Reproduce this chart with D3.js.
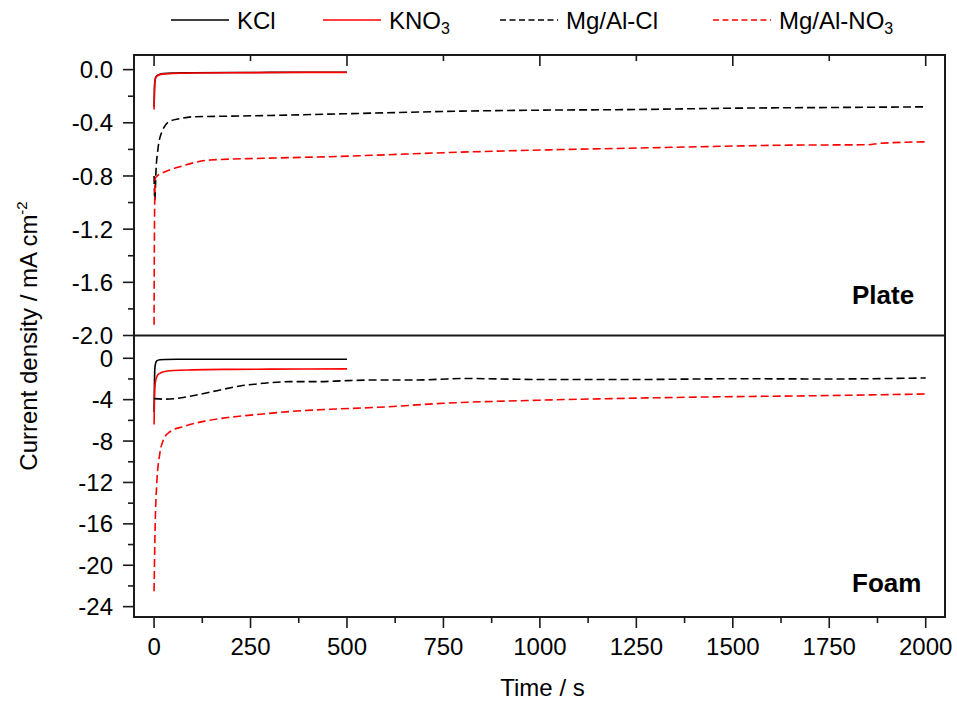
<!DOCTYPE html>
<html>
<head>
<meta charset="utf-8">
<script src="https://cdn.jsdelivr.net/npm/d3@7"></script>
<style>
  body { margin: 0; background: #fff; }
  text { font-family: "Liberation Sans", Arial, sans-serif; fill: #000; }
  .frame { fill: none; stroke: #1a1a1a; stroke-width: 2; }
  .tick-line { stroke: #1a1a1a; stroke-width: 1.6; }
  .series { fill: none; stroke-width: 1.6; }
</style>
</head>
<body>
<div id="chart"></div>
<script>
// ---- data ----
var seriesNames = ["KCl", "KNO3", "Mg/Al-Cl", "Mg/Al-NO3"];
var xTicks = [0, 250, 500, 750, 1000, 1250, 1500, 1750, 2000];
var plateTicks = [0.0, -0.4, -0.8, -1.2, -1.6, -2.0];
var foamTicks = [0, -4, -8, -12, -16, -20, -24];

// Plate panel
var plateKClTime = [0, 1, 2, 4, 8, 15, 25, 50, 100, 200, 300, 400, 500];
var plateKClCurrent = [-0.28, -0.15, -0.09, -0.06, -0.045, -0.035, -0.03, -0.026, -0.024, -0.022, -0.021, -0.02, -0.02];
var plateKNO3Time = [0, 1, 2, 4, 8, 15, 25, 50, 100, 200, 300, 400, 500];
var plateKNO3Current = [-0.30, -0.16, -0.10, -0.065, -0.048, -0.038, -0.032, -0.028, -0.025, -0.023, -0.022, -0.021, -0.021];
var plateMgAlClTime = [0, 2, 5, 10, 20, 40, 65, 100, 200, 300, 450, 600, 800, 1000, 1250, 1500, 1750, 2000];
var plateMgAlClCurrent = [-0.80, -0.98, -0.76, -0.60, -0.47, -0.39, -0.37, -0.355, -0.35, -0.345, -0.335, -0.325, -0.312, -0.305, -0.30, -0.29, -0.285, -0.28];
var plateMgAlNO3Time = [0, 1, 3, 8, 20, 67, 145, 283, 456, 580, 750, 1000, 1250, 1415, 1650, 1850, 1880, 2000];
var plateMgAlNO3Current = [-1.92, -1.2, -0.82, -0.80, -0.78, -0.73, -0.68, -0.667, -0.655, -0.643, -0.625, -0.605, -0.59, -0.58, -0.568, -0.565, -0.555, -0.543];

// Foam panel
var foamKClTime = [0, 1, 2, 4, 7, 15, 30, 60, 100, 200, 300, 400, 500];
var foamKClCurrent = [-5.2, -2.5, -1.0, -0.5, -0.25, -0.15, -0.12, -0.1, -0.1, -0.1, -0.1, -0.1, -0.1];
var foamKNO3Time = [0, 1, 2, 4, 8, 15, 25, 50, 100, 200, 300, 400, 500];
var foamKNO3Current = [-6.4, -4.0, -2.8, -2.2, -1.7, -1.45, -1.3, -1.18, -1.12, -1.07, -1.05, -1.03, -1.02];
var foamMgAlClTime = [0, 30, 110, 171, 223, 283, 352, 421, 500, 577, 680, 760, 800, 900, 1000, 1250, 1500, 1750, 2000];
var foamMgAlClCurrent = [-3.9, -3.95, -3.55, -3.06, -2.68, -2.42, -2.26, -2.26, -2.16, -2.1, -2.1, -2.0, -1.95, -2.0, -2.05, -2.05, -1.98, -2.0, -1.9];
var foamMgAlNO3Time = [0, 2.6, 7, 15, 24, 41, 76, 128, 197, 283, 370, 456, 580, 750, 1000, 1250, 1415, 1750, 2000];
var foamMgAlNO3Current = [-22.5, -16.6, -12.1, -9.2, -7.9, -7.1, -6.6, -6.1, -5.7, -5.38, -5.1, -4.93, -4.74, -4.35, -4.05, -3.85, -3.75, -3.6, -3.45];

// ---- layout ----
var width = 957, height = 702;
var left = 134, right = 945;
var plateTop = 55, split = 335.5, foamBottom = 617;

var svg = d3.select("#chart")
            .append("svg")
              .attr("width", width)
              .attr("height", height);

// scales
var xScale = d3.scaleLinear().domain([-52, 2050]).range([left, right]);
var yPlate = d3.scaleLinear().domain([-2.0, 0.11]).range([split, plateTop]);
var yFoam = d3.scaleLinear().domain([-25, 2.2]).range([foamBottom, split]);

var colours = {
  "KCl": "#000",
  "KNO3": "#ff0000",
  "Mg/Al-Cl": "#000",
  "Mg/Al-NO3": "#ff0000"
};
var dashes = {
  "KCl": null,
  "KNO3": null,
  "Mg/Al-Cl": "8,4",
  "Mg/Al-NO3": "8,4"
};

function zipSeries(times, values) {
  return times.map(function(t, i) { return {t: t, v: values[i]}; });
}

var plateData = [
  {name: "KCl", values: zipSeries(plateKClTime, plateKClCurrent)},
  {name: "KNO3", values: zipSeries(plateKNO3Time, plateKNO3Current)},
  {name: "Mg/Al-Cl", values: zipSeries(plateMgAlClTime, plateMgAlClCurrent)},
  {name: "Mg/Al-NO3", values: zipSeries(plateMgAlNO3Time, plateMgAlNO3Current)}
];
var foamData = [
  {name: "KCl", values: zipSeries(foamKClTime, foamKClCurrent)},
  {name: "KNO3", values: zipSeries(foamKNO3Time, foamKNO3Current)},
  {name: "Mg/Al-Cl", values: zipSeries(foamMgAlClTime, foamMgAlClCurrent)},
  {name: "Mg/Al-NO3", values: zipSeries(foamMgAlNO3Time, foamMgAlNO3Current)}
];

// ---- series ----
function drawPanel(data, yScale, cls) {
  var line = d3.line()
               .curve(d3.curveMonotoneX)
               .x(function(d) { return xScale(d.t); })
               .y(function(d) { return yScale(d.v); });

  svg.append("g")
      .attr("class", cls)
     .selectAll("path")
      .data(data)
      .enter()
     .append("path")
      .attr("class", "series")
      .attr("stroke", function(d) { return colours[d.name]; })
      .attr("stroke-dasharray", function(d) { return dashes[d.name]; })
      .attr("d", function(d) { return line(d.values); });
}

drawPanel(plateData, yPlate, "plate");
drawPanel(foamData, yFoam, "foam");

// ---- frame ----
svg.append("rect")
    .attr("class", "frame")
    .attr("x", left)
    .attr("y", plateTop)
    .attr("width", right - left)
    .attr("height", foamBottom - plateTop);

svg.append("line")
    .attr("class", "frame")
    .attr("x1", left).attr("x2", right)
    .attr("y1", split).attr("y2", split);

// ---- x axis (bottom, outward) ----
var xMinor = d3.range(125, 2000, 250);

svg.append("g")
    .selectAll("line")
    .data(xTicks)
    .enter()
   .append("line")
    .attr("class", "tick-line")
    .attr("x1", function(d) { return xScale(d); })
    .attr("x2", function(d) { return xScale(d); })
    .attr("y1", foamBottom)
    .attr("y2", foamBottom + 11);

svg.append("g")
    .selectAll("line")
    .data(xMinor)
    .enter()
   .append("line")
    .attr("class", "tick-line")
    .attr("x1", function(d) { return xScale(d); })
    .attr("x2", function(d) { return xScale(d); })
    .attr("y1", foamBottom)
    .attr("y2", foamBottom + 6);

svg.append("g")
    .selectAll("text")
    .data(xTicks)
    .enter()
   .append("text")
    .attr("x", function(d) { return xScale(d); })
    .attr("y", 655)
    .attr("text-anchor", "middle")
    .style("font-size", "24px")
    .text(function(d) { return d; });

// top border ticks (inward)
svg.append("g")
    .selectAll("line")
    .data(xTicks)
    .enter()
   .append("line")
    .attr("class", "tick-line")
    .attr("x1", function(d) { return xScale(d); })
    .attr("x2", function(d) { return xScale(d); })
    .attr("y1", plateTop)
    .attr("y2", function(d) { return plateTop + (d % 500 === 0 ? 11 : 6); });

svg.append("text")
    .attr("x", (left + right) / 2 + 3)
    .attr("y", 696)
    .attr("text-anchor", "middle")
    .style("font-size", "24px")
    .text("Time / s");

// ---- y axes (left, outward) ----
function drawYAxis(yScale, ticks, step, fmt) {
  var minor = ticks.slice(0, -1).map(function(d) { return d - step / 2; });
  var g = svg.append("g");

  g.selectAll(".major")
    .data(ticks)
    .enter()
   .append("line")
    .attr("class", "tick-line major")
    .attr("x1", left - 11)
    .attr("x2", left)
    .attr("y1", function(d) { return yScale(d); })
    .attr("y2", function(d) { return yScale(d); });

  g.selectAll(".minor")
    .data(minor)
    .enter()
   .append("line")
    .attr("class", "tick-line minor")
    .attr("x1", left - 6)
    .attr("x2", left)
    .attr("y1", function(d) { return yScale(d); })
    .attr("y2", function(d) { return yScale(d); });

  g.selectAll("text")
    .data(ticks)
    .enter()
   .append("text")
    .attr("x", left - 21)
    .attr("y", function(d) { return yScale(d); })
    .attr("dy", "0.36em")
    .attr("text-anchor", "end")
    .style("font-size", "24px")
    .text(fmt);
}

// plain hyphen minus, like the original
drawYAxis(yPlate, plateTicks, 0.4, function(d) { return d.toFixed(1); });
drawYAxis(yFoam, foamTicks, 4, function(d) { return String(d); });

// y label with superscript
var yLabel = svg.append("text")
    .attr("transform", "translate(37," + ((plateTop + foamBottom) / 2) + ") rotate(-90)")
    .attr("text-anchor", "middle")
    .style("font-size", "24px");
yLabel.append("tspan").text("Current density / mA cm");
yLabel.append("tspan")
    .attr("dy", "-0.7em")
    .style("font-size", "15px")
    .text("-2");

// panel names
svg.append("text")
    .attr("x", 852)
    .attr("y", 304)
    .style("font-size", "26px")
    .style("font-weight", "bold")
    .text("Plate");

svg.append("text")
    .attr("x", 852)
    .attr("y", 592)
    .style("font-size", "26px")
    .style("font-weight", "bold")
    .text("Foam");

// ---- legend ----
var legendX = [171, 323, 500, 713];
var legendY = 20;

var legend = svg.append("g").attr("class", "legend");

legend.selectAll("line")
    .data(seriesNames)
    .enter()
   .append("line")
    .attr("class", "series")
    .attr("x1", function(d, i) { return legendX[i]; })
    .attr("x2", function(d, i) { return legendX[i] + 58; })
    .attr("y1", legendY)
    .attr("y2", legendY)
    .attr("stroke", function(d) { return colours[d]; })
    .attr("stroke-dasharray", function(d) { return dashes[d] ? "6,3.5" : null; });

legend.selectAll("text")
    .data(seriesNames)
    .enter()
   .append("text")
    .attr("x", function(d, i) { return legendX[i] + 66; })
    .attr("y", legendY + 9)
    .style("font-size", "24px")
    .each(function(d) {
      var t = d3.select(this);
      var m = d.match(/^(.*?)(\d)$/);
      if (m) {
        t.append("tspan").text(m[1]);
        t.append("tspan")
          .attr("dy", "0.3em")
          .style("font-size", "16px")
          .text(m[2]);
      } else {
        t.text(d);
      }
    });
</script>
</body>
</html>
